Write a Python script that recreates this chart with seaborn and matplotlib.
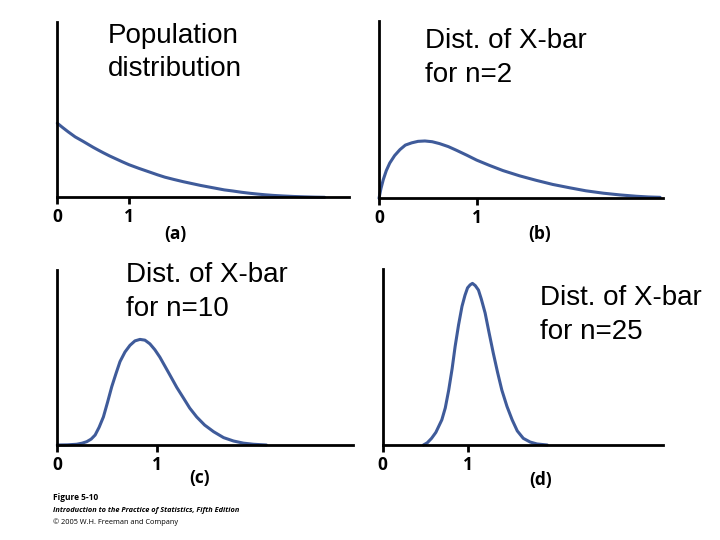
import matplotlib
matplotlib.use("Agg")
import matplotlib.pyplot as plt
import seaborn as sns

# Curves: x in axis units (ticks 0 and 1), y in density units
pop_x = [0, 0.07, 0.15, 0.25, 0.36, 0.43, 0.5, 0.57, 0.64, 0.73, 0.82, 0.91, 1.0, 1.14,
         1.29, 1.4, 1.5, 1.63, 1.76, 1.88, 2.0, 2.11, 2.22, 2.33, 2.45, 2.57, 2.69, 2.8,
         2.9, 3.02, 3.15, 3.3, 3.45, 3.6, 3.73]
pop_y = [1.0, 0.945, 0.885, 0.815, 0.755, 0.715, 0.675, 0.638, 0.602, 0.558, 0.518, 0.478, 0.44, 0.39,
         0.34, 0.303, 0.272, 0.24, 0.21, 0.185, 0.16, 0.14, 0.12, 0.10, 0.085, 0.068, 0.054, 0.043,
         0.034, 0.025, 0.018, 0.011, 0.006, 0.002, 0.0]

n2_x = [0, 0.02, 0.044, 0.075, 0.11, 0.16, 0.215, 0.27, 0.335, 0.4, 0.47, 0.545, 0.62, 0.71,
        0.795, 0.9, 1.0, 1.13, 1.27, 1.44, 1.61, 1.78, 1.955, 2.12, 2.3, 2.47, 2.64, 2.76, 2.88]
n2_y = [0.0, 0.13, 0.25, 0.37, 0.47, 0.57, 0.65, 0.71, 0.74, 0.76, 0.765, 0.755, 0.73, 0.69,
        0.64, 0.575, 0.51, 0.44, 0.37, 0.30, 0.24, 0.185, 0.14, 0.10, 0.068, 0.045, 0.027, 0.018, 0.013]

n10_x = [0, 0.1, 0.195, 0.25, 0.296, 0.34, 0.38, 0.42, 0.463, 0.505, 0.547, 0.59, 0.63, 0.68,
         0.73, 0.78, 0.83, 0.88, 0.93, 0.98, 1.03, 1.08, 1.13, 1.2, 1.27, 1.33, 1.4, 1.48,
         1.57, 1.67, 1.77, 1.87, 1.97, 2.1]
n10_y = [0.0, 0.002, 0.01, 0.025, 0.045, 0.08, 0.135, 0.24, 0.38, 0.58, 0.79, 0.97, 1.13, 1.26,
         1.35, 1.41, 1.43, 1.42, 1.37, 1.29, 1.19, 1.07, 0.95, 0.78, 0.63, 0.5, 0.38, 0.27,
         0.18, 0.1, 0.054, 0.025, 0.01, 0.0]

n25_x = [0.475, 0.52, 0.57, 0.62, 0.69, 0.73, 0.77, 0.81, 0.845, 0.885, 0.925, 0.96, 0.99,
         1.02, 1.047, 1.08, 1.117, 1.15, 1.195, 1.24, 1.29, 1.34, 1.39, 1.45, 1.51, 1.57,
         1.64, 1.72, 1.8, 1.92]
n25_y = [0.0, 0.03, 0.09, 0.17, 0.34, 0.5, 0.74, 1.03, 1.33, 1.62, 1.87, 2.02, 2.12,
         2.16, 2.18, 2.15, 2.09, 1.97, 1.78, 1.52, 1.24, 0.98, 0.74, 0.52, 0.34, 0.19,
         0.09, 0.04, 0.014, 0.0]

titles = [
    ["Population", "distribution"],
    ["Dist. of X-bar", "for n=2"],
    ["Dist. of X-bar", "for n=10"],
    ["Dist. of X-bar", "for n=25"],
]
panel_labels = ["(a)", "(b)", "(c)", "(d)"]
tick_labels = ["0", "1"]
footer = [
    "Figure 5-10",
    "Introduction to the Practice of Statistics, Fifth Edition",
    "\u00a9 2005 W.H. Freeman and Company",
]

W, H = 720, 540
CURVE = "#3f5b9a"
BOLD_FONT = ["Open Sans", "DejaVu Sans"]

sns.set_style("white")
plt.rcParams["font.family"] = ["Liberation Sans", "DejaVu Sans"]
plt.rcParams["text.color"] = "black"
plt.rcParams["xtick.color"] = "black"


def box(left, top, right, bottom):
    return [left / W, (H - bottom) / H, (right - left) / W, (bottom - top) / H]


def fx(px):
    return px / W


def fy(py):
    return (H - py) / H


fig = plt.figure(figsize=(7.2, 5.4), dpi=100)

# panel geometry in pixels: left, top, right, bottom, x max
panels = [
    (57.3, 21.7, 349, 197.3, 4.07, pop_x, pop_y),
    (379, 20.7, 663, 198.3, 2.91, n2_x, n2_y),
    (57.3, 270, 353, 445, 2.97, n10_x, n10_y),
    (382.7, 269.3, 663, 445, 3.27, n25_x, n25_y),
]

for left, top, right, bottom, xmax, xs, ys in panels:
    ax = fig.add_axes(box(left, top, right, bottom))
    sns.lineplot(x=xs, y=ys, ax=ax, color=CURVE, linewidth=2.2)
    for ln in ax.lines:
        ln.set_clip_on(False)
        ln.set_solid_capstyle("round")
        ln.set_solid_joinstyle("round")
    ax.set_xlim(0, xmax)
    ax.set_ylim(0, 2.37)
    sns.despine(ax=ax)
    for side in ["left", "bottom"]:
        ax.spines[side].set_color("black")
        ax.spines[side].set_linewidth(2.0)
    ax.set_yticks([])
    ax.set_xticks([0, 1])
    ax.set_xticklabels(tick_labels, family=BOLD_FONT, fontweight="bold", fontsize=12.5,
                       color="black")
    ax.tick_params(axis="x", length=5, width=2, color="black", pad=3, bottom=True)

# titles (first line baseline positions)
title_pos = [(108, 42.7, 33.5), (425, 47.7, 34), (126, 282.3, 33.4), (540, 305, 34.3)]
for (x0, y0, step), lines in zip(title_pos, titles):
    for i, line in enumerate(lines):
        fig.text(fx(x0), fy(y0 + i * step), line, fontsize=20, va="baseline", ha="left",
                 color="black")

label_pos = [(175, 234), (540, 234), (200, 478), (541, 480)]
for (x0, y0), lab in zip(label_pos, panel_labels):
    fig.text(fx(x0), fy(y0), lab, fontsize=12.5, fontweight="bold", family=BOLD_FONT,
             ha="center", va="center", color="black")

fig.text(fx(53), fy(500.5), footer[0], fontsize=6, fontweight="bold", family=BOLD_FONT,
         va="baseline", color="black")
fig.text(fx(53), fy(512), footer[1], fontsize=5.3, fontweight="bold", fontstyle="italic",
         family=BOLD_FONT, va="baseline", color="black")
fig.text(fx(53), fy(524), footer[2], fontsize=5.3, family=BOLD_FONT, va="baseline",
         color="black")

fig.savefig("out.png", dpi=100)
